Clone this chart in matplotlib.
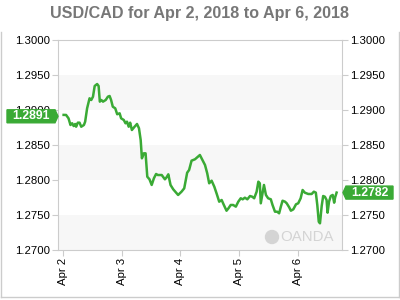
import matplotlib
matplotlib.use("Agg")
import matplotlib.pyplot as plt
from matplotlib.patches import Polygon, Circle
from matplotlib.lines import Line2D

# hours since Apr 2 00:00 and USD/CAD price
hours = [0.3, 1.3, 2.3, 3.1, 3.8, 4.4, 5.0, 5.4, 6.1, 6.8, 7.5, 8.6, 9.1, 9.9,
         10.9, 11.6, 12.3, 13.0, 14.0, 14.6, 15.1, 15.7, 16.4, 17.5, 18.4, 19.1,
         19.7, 20.4, 21.4, 22.2, 23.2, 23.8, 24.9, 25.6, 26.2, 26.9, 27.5, 28.2,
         29.3, 30.3, 31.1, 31.8, 32.3, 33.1, 33.8, 34.5, 35.4, 36.3, 37.2, 38.1,
         38.8, 40.4, 41.7, 42.4, 43.1, 44.0, 45.1, 46.5, 47.1, 48.5, 49.6, 50.8,
         51.6, 52.6, 54.0, 54.9, 56.0, 56.7, 58.1, 59.0, 59.8, 60.8, 61.9, 62.9,
         63.9, 64.9, 65.8, 66.9, 67.7, 68.6, 69.6, 70.7, 71.7, 72.7, 73.5, 74.4,
         75.4, 76.5, 77.4, 78.2, 79.2, 79.9, 80.5, 80.9, 81.5, 82.2, 83.0, 83.9,
         85.0, 85.7, 86.7, 87.6, 88.4, 89.1, 89.8, 90.8, 91.5, 92.5, 93.2, 94.2,
         95.3, 96.2, 97.2, 98.0, 98.9, 100.3, 101.7, 102.6, 103.4, 104.0, 104.6,
         105.1, 105.8, 106.4, 107.1, 107.8, 108.2, 108.8, 109.5, 110.3, 110.9,
         111.3, 111.9]
prices = [1.2893, 1.28929, 1.28881, 1.28786, 1.28810, 1.28771, 1.28800, 1.28761,
          1.28819, 1.28819, 1.28761, 1.28786, 1.28833, 1.29024, 1.29167, 1.29143,
          1.29190, 1.29343, 1.29371, 1.29343, 1.29119, 1.29143, 1.29119, 1.29143,
          1.29190, 1.29200, 1.29143, 1.29047, 1.29024, 1.28939, 1.28953, 1.28881,
          1.28857, 1.28810, 1.28833, 1.28761, 1.28819, 1.28714, 1.28761, 1.28800,
          1.28739, 1.28571, 1.28310, 1.28381, 1.28381, 1.28047, 1.28010, 1.27929,
          1.28024, 1.28086, 1.28071, 1.28071, 1.28010, 1.28039, 1.28081, 1.27929,
          1.27867, 1.27810, 1.27786, 1.27833, 1.27881, 1.28104, 1.28143, 1.28276,
          1.28296, 1.28324, 1.28357, 1.28310, 1.28214, 1.28096, 1.27953, 1.27990,
          1.27904, 1.27800, 1.27690, 1.27714, 1.27643, 1.27561, 1.27596, 1.27643,
          1.27643, 1.27619, 1.27690, 1.27739, 1.27724, 1.27747, 1.27724, 1.27771,
          1.27761, 1.27739, 1.27833, 1.27976, 1.27953, 1.27667, 1.27786, 1.27929,
          1.27786, 1.27739, 1.27724, 1.27643, 1.27547, 1.27547, 1.27524, 1.27619,
          1.27704, 1.27690, 1.27667, 1.27610, 1.27561, 1.27581, 1.27653, 1.27667,
          1.27739, 1.27857, 1.27819, 1.27800, 1.27800, 1.27833, 1.27819, 1.27643,
          1.27404, 1.27381, 1.27629, 1.27771, 1.27761, 1.27714, 1.27533, 1.27690,
          1.27771, 1.27786, 1.27676, 1.27753, 1.2782]

tick_hours = [0, 24, 48, 72, 96]
tick_labels = ["Apr 2", "Apr 3", "Apr 4", "Apr 5", "Apr 6"]
y_ticks = [1.27, 1.275, 1.28, 1.285, 1.29, 1.295, 1.30]
open_price = 1.2891
last_price = 1.2782
title = "USD/CAD for Apr 2, 2018 to Apr 6, 2018"

green = "#3aaa35"
grey = "#cccccc"
plt.rcParams['font.family'] = ['Liberation Sans', 'DejaVu Sans']

fig = plt.figure(figsize=(4, 3), dpi=100)
ax = fig.add_axes([0.145, 0.1667, 0.71, 0.70])

# alternating bands
for i in range(0, len(y_ticks) - 1, 2):
    ax.axhspan(y_ticks[i], y_ticks[i + 1], color="#f7f7f7", lw=0, zorder=0)

ax.plot(hours, prices, color=green, lw=1.8, zorder=3)

ax.set_xlim(-2.0, 114.1)
ax.set_ylim(1.27, 1.30)
ax.set_yticks(y_ticks)
ax.set_yticklabels(["%.4f" % v for v in y_ticks])
ax.set_xticks(tick_hours)
ax.set_xticklabels(tick_labels, rotation=90)
ax.tick_params(axis="both", length=4, color=grey, labelsize=8.2, pad=2)
ax.tick_params(axis="y", labelright=True, right=True)
for s in ax.spines.values():
    s.set_color(grey)

fig.text(0.5, 0.955, title, ha="center", va="center", fontsize=11.6,
         fontweight="bold", color="#777777")

# price labels with arrow
fig.canvas.draw()
def price_tag(val, x_tip, x_end):
    _, yp = ax.get_yaxis_transform().transform((0, val))
    h = 6.5
    if x_end < x_tip:
        pts = [(x_tip, yp), (x_tip - 3, yp + h), (x_end, yp + h), (x_end, yp - h), (x_tip - 3, yp - h)]
    else:
        pts = [(x_tip, yp), (x_tip + 3, yp + h), (x_end, yp + h), (x_end, yp - h), (x_tip + 3, yp - h)]
    fig.patches.append(Polygon(pts, closed=True, color=green, transform=None, zorder=5))
    xc = (x_end + x_tip + (3 if x_end > x_tip else -3)) / 2
    fig.text(xc / 400, yp / 300, "%.4f" % val, ha="center", va="center",
             color="white", fontsize=8.8, fontweight="bold", zorder=6)

price_tag(open_price, 58, 7)
price_tag(last_price, 343, 393)

# OANDA watermark
fig.patches.append(Circle((272, 63), 6.5, color="#d4d4d4", transform=None, zorder=2))
fig.lines.append(Line2D([269, 275], [60, 66], color="white", lw=1.5, transform=None, zorder=2))
fig.text(280 / 400, 63 / 300, "OANDA", ha="left", va="center", fontsize=10.8,
         color="#d4d4d4", zorder=2)

# frame around the figure
for xs, ys in [([1, 1], [3, 268]), ([399, 399], [3, 268]), ([1, 399], [3, 3])]:
    fig.lines.append(Line2D(xs, ys, color=grey, lw=1, transform=None))

fig.savefig("out.png", dpi=100)
